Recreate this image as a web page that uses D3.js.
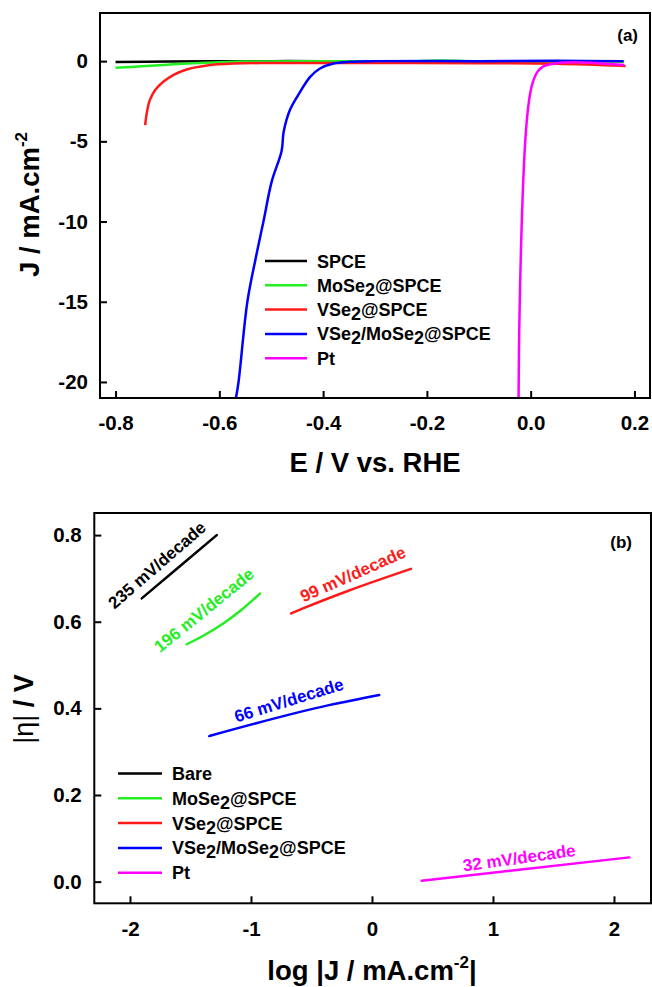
<!DOCTYPE html>
<html>
<head>
<meta charset="utf-8">
<script src="https://cdn.jsdelivr.net/npm/d3@7"></script>
<style>
  html, body { margin: 0; padding: 0; background: #fff; }
  svg { display: block; font-family: "Liberation Sans", Arial, sans-serif; }
</style>
</head>
<body>
<svg id="chart" width="652" height="987"></svg>
<script>
// ---------------- Panel (a) data: LSV curves ----------------
const seriesNamesA = ["SPCE", "MoSe2@SPCE", "VSe2@SPCE", "VSe2/MoSe2@SPCE", "Pt"];
const colors = ["#000000", "#22ee22", "#ff1a1a", "#0000ff", "#ff00ff"];

const E_SPCE = [-0.80, -0.70, -0.60, -0.50, -0.40, -0.20, 0.00, 0.18];
const J_SPCE = [-0.06, -0.03, -0.01, 0.00, 0.00, 0.00, 0.00, 0.00];

const E_MoSe2 = [-0.80, -0.75, -0.70, -0.65, -0.60, -0.55, -0.40, -0.22, -0.17, -0.12, 0.00, 0.18];
const J_MoSe2 = [-0.42, -0.32, -0.22, -0.13, -0.07, -0.03, 0.00, 0.00, 0.04, 0.00, 0.00, 0.00];

const E_VSe2 = [-0.743, -0.740, -0.734, -0.724, -0.708, -0.689, -0.663, -0.624, -0.573, -0.50, -0.30, -0.10, 0.05, 0.183];
const J_VSe2 = [-3.99, -3.26, -2.43, -1.81, -1.29, -0.87, -0.52, -0.27, -0.15, -0.12, -0.12, -0.13, -0.17, -0.31];

const E_VMo = [-0.568, -0.563, -0.546, -0.530, -0.515, -0.499, -0.480, -0.476, -0.464, -0.444, -0.425, -0.406, -0.380, -0.348, -0.30, -0.10, 0.05, 0.179];
const J_VMo = [-21.0, -20.0, -15.0, -12.3, -10.0, -7.5, -5.60, -4.40, -3.05, -1.90, -0.98, -0.46, -0.15, -0.04, 0.00, 0.00, 0.02, 0.00];

const E_Pt = [-0.0233, -0.022, -0.0157, -0.0094, -0.003, 0.0035, 0.013, 0.023, 0.036, 0.058, 0.10, 0.18];
const J_Pt = [-21.0, -16.8, -8.67, -4.50, -2.43, -1.39, -0.67, -0.36, -0.21, -0.10, -0.08, -0.24];

const xTicksA = [-0.8, -0.6, -0.4, -0.2, 0.0, 0.2];
const yTicksA = [0, -5, -10, -15, -20];

// ---------------- Panel (b) data: Tafel lines ----------------
const seriesNamesB = ["Bare", "MoSe2@SPCE", "VSe2@SPCE", "VSe2/MoSe2@SPCE", "Pt"];
const logJ_Bare = [-1.903, -1.593, -1.283];
const eta_Bare = [0.654, 0.727, 0.800];
const logJ_MoSe2 = [-1.531, -1.380, -1.229, -1.080, -0.926];
const eta_MoSe2 = [0.548, 0.570, 0.596, 0.627, 0.665];
const logJ_VSe2 = [-0.669, -0.550, -0.200, 0.322];
const eta_VSe2 = [0.619, 0.633, 0.671, 0.722];
const logJ_VMo = [-1.345, -0.347, 0.060];
const eta_VMo = [0.336, 0.408, 0.431];
const logJ_Pt = [0.411, 2.127];
const eta_Pt = [0.002, 0.056];
const slopeLabels = ["235 mV/decade", "196 mV/decade", "99 mV/decade", "66 mV/decade", "32 mV/decade"];

const xTicksB = [-2, -1, 0, 1, 2];
const yTicksB = [0.0, 0.2, 0.4, 0.6, 0.8];

// ---------------- Drawing ----------------
const svg = d3.select("#chart");
const FONT = '"Liberation Sans", Arial, sans-serif';
const hy = f => d => f(d).replace("\u2212", "-");

function zip(xs, ys) { return xs.map((x, i) => [x, ys[i]]); }

function drawFrame(g, x, y) {
  const [x0, x1] = x.range(), [y0, y1] = y.range();
  g.append("rect")
    .attr("x", x0).attr("y", y1).attr("width", x1 - x0).attr("height", y0 - y1)
    .attr("fill", "none").attr("stroke", "#000").attr("stroke-width", 2);
}

function styleAxis(sel) {
  sel.select(".domain").remove();
  sel.selectAll(".tick line").attr("stroke", "#000").attr("stroke-width", 2);
  sel.selectAll(".tick text").attr("fill", "#000")
    .style("font-family", FONT).style("font-size", "20.5px").style("font-weight", "bold");
}

// legend label with subscript 2
function richLabel(textSel, label) {
  const parts = label.split(/(2)/);
  let sub = false;
  parts.forEach(p => {
    if (p === "") return;
    if (p === "2") {
      textSel.append("tspan").attr("dy", 4).text("2");
      sub = true;
    } else {
      const t = textSel.append("tspan").text(p);
      if (sub) { t.attr("dy", -4); sub = false; }
    }
  });
}

// ===== Panel (a) =====
const xA = d3.scaleLinear().domain([-0.83, 0.23]).range([100, 650]);
const yA = d3.scaleLinear().domain([-21, 3]).range([398, 13]);

const gA = svg.append("g");
const clipA = svg.append("clipPath").attr("id", "clipA");
clipA.append("rect").attr("x", 100).attr("y", 13).attr("width", 550).attr("height", 385);

const lineA = d3.line().x(d => xA(d[0])).y(d => yA(d[1])).curve(d3.curveCatmullRom.alpha(0.5));
const dataA = [zip(E_SPCE, J_SPCE), zip(E_MoSe2, J_MoSe2), zip(E_VSe2, J_VSe2), zip(E_VMo, J_VMo), zip(E_Pt, J_Pt)];
const curvesA = gA.append("g").attr("clip-path", "url(#clipA)");
dataA.forEach((d, i) => {
  curvesA.append("path").datum(d).attr("d", lineA)
    .attr("fill", "none").attr("stroke", colors[i]).attr("stroke-width", 2.5)
    .attr("stroke-linejoin", "round");
});

gA.append("g").attr("transform", "translate(0,398)")
  .call(d3.axisBottom(xA).tickValues(xTicksA).tickSize(-7).tickPadding(17).tickFormat(hy(d3.format(".1f"))))
  .call(styleAxis);
gA.append("g").attr("transform", "translate(100,0)")
  .call(d3.axisLeft(yA).tickValues(yTicksA).tickSize(-7).tickPadding(12).tickFormat(hy(d3.format("d"))))
  .call(styleAxis);
drawFrame(gA, xA, yA);

gA.append("text").attr("x", 638).attr("y", 41).attr("text-anchor", "end")
  .style("font-family", FONT).style("font-size", "17px").style("font-weight", "bold").text("(a)");

gA.append("text").attr("x", 375).attr("y", 472).attr("text-anchor", "middle")
  .style("font-family", FONT).style("font-size", "27.5px").style("font-weight", "bold")
  .text("E / V vs. RHE");

const yTitleA = gA.append("text").attr("transform", "translate(39,204.5) rotate(-90)")
  .attr("text-anchor", "middle")
  .style("font-family", FONT).style("font-size", "27.5px").style("font-weight", "bold");
yTitleA.append("tspan").text("J / mA.cm");
yTitleA.append("tspan").attr("dy", -12).style("font-size", "17px").text("-2");

const legA = gA.append("g");
seriesNamesA.forEach((name, i) => {
  const yy = 261 + i * 24.3;
  legA.append("line").attr("x1", 265).attr("x2", 307).attr("y1", yy).attr("y2", yy)
    .attr("stroke", colors[i]).attr("stroke-width", 2.5);
  const t = legA.append("text").attr("x", 317).attr("y", yy + 6.5)
    .style("font-family", FONT).style("font-size", "18px").style("font-weight", "bold");
  richLabel(t, name);
});

// ===== Panel (b) =====
const xB = d3.scaleLinear().domain([-2.295, 2.306]).range([94.3, 651]);
const yB = d3.scaleLinear().domain([-0.05, 0.851]).range([903.3, 513]);
const gB = svg.append("g");

const lineB = d3.line().x(d => xB(d[0])).y(d => yB(d[1])).curve(d3.curveMonotoneX);
const dataB = [zip(logJ_Bare, eta_Bare), zip(logJ_MoSe2, eta_MoSe2), zip(logJ_VSe2, eta_VSe2), zip(logJ_VMo, eta_VMo), zip(logJ_Pt, eta_Pt)];
dataB.forEach((d, i) => {
  gB.append("path").datum(d).attr("d", lineB)
    .attr("fill", "none").attr("stroke", colors[i]).attr("stroke-width", 2.5)
    .attr("stroke-linecap", "round");
});

// slope annotations (anchor positions in data units)
const labelAnchors = [[-1.777, 0.731, -41], [-1.389, 0.627, -39], [-0.158, 0.710, -24], [-0.687, 0.419, -17], [1.216, 0.055, -8]];
slopeLabels.forEach((s, i) => {
  const [lx, ly, ang] = labelAnchors[i];
  gB.append("text")
    .attr("transform", `translate(${xB(lx)},${yB(ly)}) rotate(${ang})`)
    .attr("text-anchor", "middle").attr("dy", "0.35em")
    .attr("fill", colors[i])
    .style("font-family", FONT).style("font-size", "17px").style("font-weight", "bold")
    .text(s);
});

gB.append("g").attr("transform", "translate(0,903.3)")
  .call(d3.axisBottom(xB).tickValues(xTicksB).tickSize(-7).tickPadding(18).tickFormat(hy(d3.format("d"))))
  .call(styleAxis);
gB.append("g").attr("transform", "translate(94.3,0)")
  .call(d3.axisLeft(yB).tickValues(yTicksB).tickSize(-7).tickPadding(12.6).tickFormat(hy(d3.format(".1f"))))
  .call(styleAxis);
drawFrame(gB, xB, yB);

gB.append("text").attr("x", 632).attr("y", 548).attr("text-anchor", "end")
  .style("font-family", FONT).style("font-size", "17px").style("font-weight", "bold").text("(b)");

const xTitleB = gB.append("text").attr("x", 372).attr("y", 980).attr("text-anchor", "middle")
  .style("font-family", FONT).style("font-size", "27.5px").style("font-weight", "bold");
xTitleB.append("tspan").text("log |J / mA.cm");
xTitleB.append("tspan").attr("dy", -12).style("font-size", "17px").text("-2");
xTitleB.append("tspan").attr("dy", 12).text("|");

const yTitleB = gB.append("text").attr("transform", "translate(33,709) rotate(-90)")
  .attr("text-anchor", "middle")
  .style("font-family", FONT).style("font-size", "27px");
yTitleB.append("tspan").style("font-weight", "normal").text("|η|");
yTitleB.append("tspan").style("font-weight", "bold").text(" / V");

const legB = gB.append("g");
seriesNamesB.forEach((name, i) => {
  const yy = 773.5 + i * 24.8;
  legB.append("line").attr("x1", 118).attr("x2", 162).attr("y1", yy).attr("y2", yy)
    .attr("stroke", colors[i]).attr("stroke-width", 2.5);
  const t = legB.append("text").attr("x", 172).attr("y", yy + 6.5)
    .style("font-family", FONT).style("font-size", "18px").style("font-weight", "bold");
  richLabel(t, name);
});
</script>
</body>
</html>
